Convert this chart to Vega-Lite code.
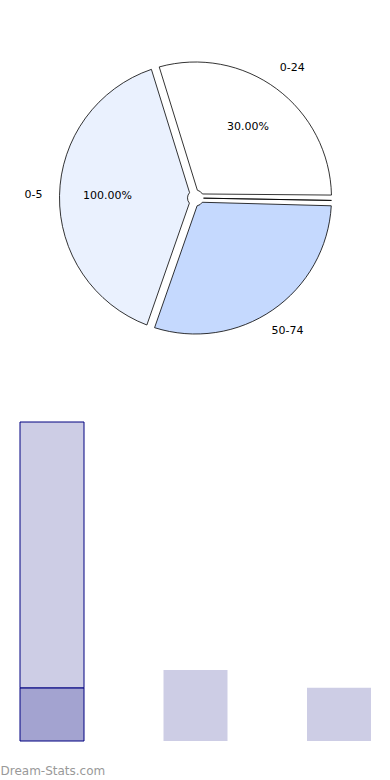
{
  "$schema": "https://vega.github.io/schema/vega-lite/v6.json",
  "padding": {"left": 0, "top": 0, "right": 0, "bottom": 0},
  "background": "white",
  "spacing": 25,
  "config": {"view": {"stroke": null}, "font": "DejaVu Sans"},
  "resolve": {"scale": {"color": "independent", "stroke": "independent", "theta": "independent", "x": "independent", "y": "independent"}},
  "vconcat": [
    {
      "width": 351,
      "height": 396,
      "data": {"values": [
        {"label": "0-24", "pct": "30.00%", "value": 30, "order": 1, "key": "s1"},
        {"label": "", "pct": "", "value": 0.3, "order": 2, "key": "s2"},
        {"label": "50-74", "pct": "", "value": 30, "order": 3, "key": "s3"},
        {"label": "0-5", "pct": "100.00%", "value": 40, "order": 4, "key": "s4"}
      ]},
      "encoding": {
        "theta": {"field": "value", "type": "quantitative", "stack": true, "scale": {"range": [-0.3, 5.983]}},
        "order": {"field": "order", "type": "quantitative"}
      },
      "layer": [
        {
          "mark": {"type": "arc", "outerRadius": 136, "innerRadius": 8, "padAngle": 0.06, "stroke": "#000000", "strokeWidth": 0.8},
          "encoding": {
            "color": {"field": "key", "type": "nominal", "scale": {"domain": ["s1", "s2", "s3", "s4"], "range": ["#ffffff", "#ffffff", "#c5d9fe", "#eaf1fe"]}, "legend": null}
          }
        },
        {
          "mark": {"type": "text", "radius": 162, "fontSize": 11, "color": "#000000"},
          "encoding": {"text": {"field": "label"}}
        },
        {
          "mark": {"type": "text", "radius": 88, "fontSize": 11, "color": "#000000"},
          "encoding": {"text": {"field": "pct"}}
        }
      ]
    },
    {
      "width": 351,
      "height": 319,
      "title": {"text": "Dream-Stats.com", "orient": "bottom", "anchor": "start", "dx": -19, "offset": 24, "fontSize": 12, "fontWeight": "normal", "color": "#999999", "font": "DejaVu Sans"},
      "data": {"values": [
        {"cat": "A", "part": "dark", "value": 3, "outline": "yes", "ord": 1},
        {"cat": "A", "part": "light", "value": 15, "outline": "yes", "ord": 2},
        {"cat": "B", "part": "light", "value": 4, "outline": "no", "ord": 2},
        {"cat": "C", "part": "light", "value": 3, "outline": "no", "ord": 2}
      ]},
      "mark": {"type": "bar", "strokeWidth": 1},
      "encoding": {
        "x": {"field": "cat", "type": "nominal", "axis": null, "scale": {"paddingInner": 0.554, "paddingOuter": 0}},
        "y": {"field": "value", "type": "quantitative", "stack": "zero", "axis": null, "scale": {"domain": [0, 18], "nice": false}},
        "order": {"field": "ord", "type": "quantitative"},
        "color": {"field": "part", "type": "nominal", "scale": {"domain": ["dark", "light"], "range": ["#a3a3d0", "#cdcde5"]}, "legend": null},
        "stroke": {"field": "outline", "type": "nominal", "scale": {"domain": ["yes", "no"], "range": ["#000080", "transparent"]}, "legend": null}
      }
    }
  ]
}
